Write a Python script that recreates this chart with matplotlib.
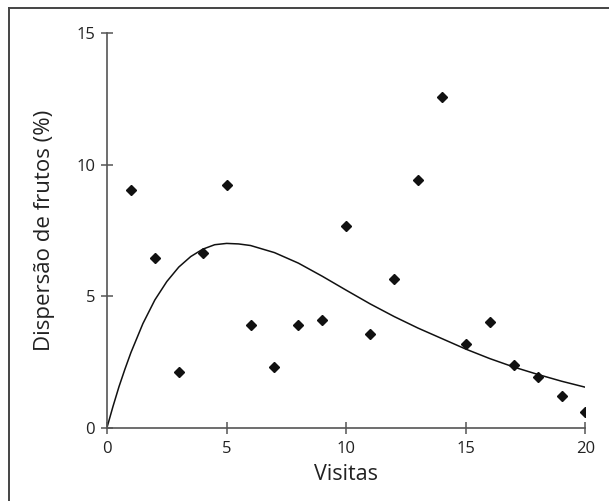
import matplotlib
matplotlib.use("Agg")
import matplotlib.pyplot as plt
from matplotlib.lines import Line2D

# observed points: visits vs fruit dispersal (%)
visitas = [1, 2, 3, 4, 5, 6, 7, 8, 9, 10, 11, 12, 13, 14, 15, 16, 17, 18, 19, 20]
dispersao = [9.03, 6.46, 2.12, 6.65, 9.22, 3.90, 2.31, 3.90, 4.08, 7.66,
             3.55, 5.63, 9.40, 12.56, 3.17, 4.00, 2.37, 1.93, 1.20, 0.60]

# fitted curve
curva_x = [0, 0.1, 0.25, 0.5, 0.75, 1, 1.5, 2, 2.5, 3, 3.5, 4, 4.5, 5, 5.5, 6,
           7, 8, 9, 10, 11, 12, 13, 14, 15, 16, 17, 18, 19, 20]
curva_y = [0, 0.32, 0.8, 1.55, 2.22, 2.85, 3.95, 4.85, 5.55, 6.1, 6.5, 6.78, 6.95,
           7.0, 6.98, 6.92, 6.65, 6.25, 5.75, 5.22, 4.7, 4.22, 3.78, 3.38, 2.98,
           2.62, 2.3, 2.02, 1.76, 1.53]

plt.rcParams["font.family"] = ["Open Sans", "DejaVu Sans"]
AX = "#555555"
TXT = "#222222"

fig = plt.figure(figsize=(6.09, 5.01), dpi=100)
ax = fig.add_axes([0.1757, 0.1467, 0.7857, 0.7874])

ax.plot(curva_x, curva_y, color="#111111", lw=1.1)
ax.plot(visitas, dispersao, ls="none", marker="D", ms=5.5, color="#111111")

ax.set_xlim(0, 20)
ax.set_ylim(0, 15)
ax.set_xticks([0, 5, 10, 15, 20])
ax.set_yticks([0, 5, 10, 15])
for s in ("top", "right"):
    ax.spines[s].set_visible(False)
for s in ("left", "bottom"):
    ax.spines[s].set_color(AX)
    ax.spines[s].set_linewidth(1.2)
ax.tick_params(direction="inout", length=9, width=1.1, color=AX,
               labelsize=12, labelcolor=TXT)
ax.tick_params(axis="x", pad=5)
ax.tick_params(axis="y", pad=4)

ax.set_xlabel("Visitas", fontsize=15.5, color=TXT, va="center")
ax.set_ylabel("Dispersão de frutos (%)", fontsize=16, color=TXT, va="center")
ax.xaxis.set_label_coords(0.5, -0.120)
ax.yaxis.set_label_coords(-0.1296, 0.5)

# frame round the figure (only left and top edges are visible in the crop)
W, H = 609, 501
fig.add_artist(Line2D([8.5, 8.5], [0, H - 8], transform=None, color="#444444", lw=1.4))
fig.add_artist(Line2D([8.5, W], [H - 8, H - 8], transform=None, color="#444444", lw=1.4))

fig.savefig("out.png", dpi=100)
